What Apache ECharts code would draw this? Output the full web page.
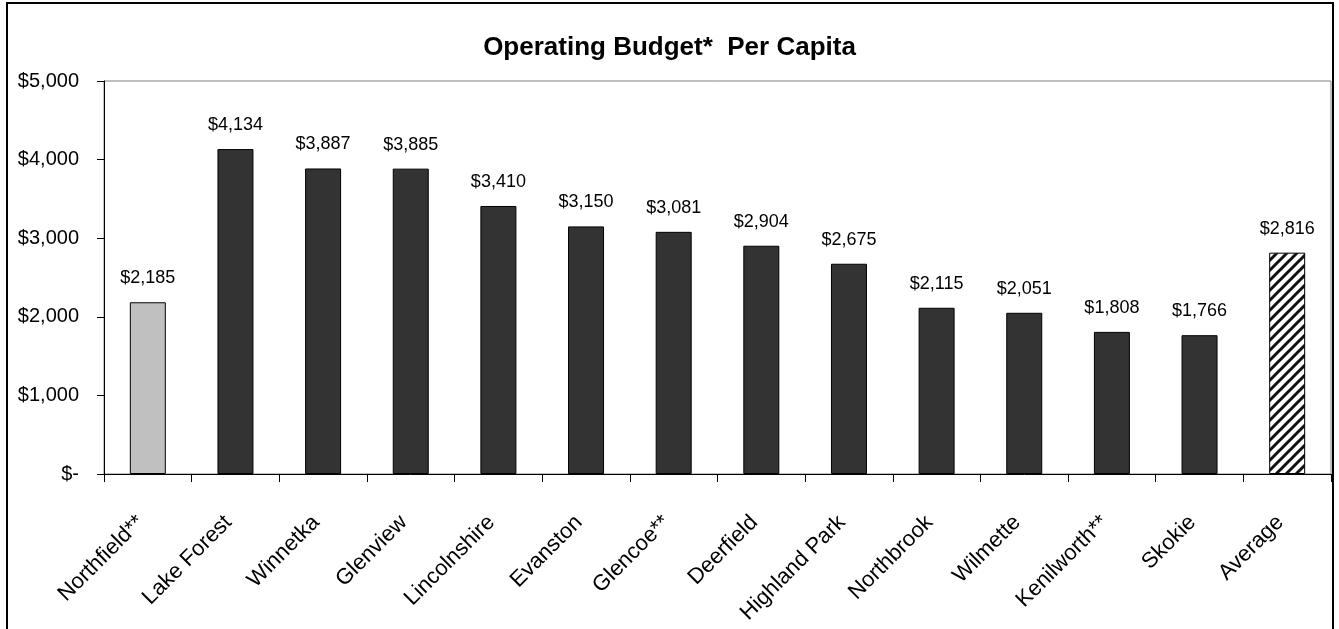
<!DOCTYPE html>
<html>
<head>
<meta charset="utf-8">
<script src="https://cdn.jsdelivr.net/npm/echarts@6/dist/echarts.min.js"></script>
<style>
html,body{margin:0;padding:0;background:#fff;}
#c{width:1339px;height:629px;}
</style>
</head>
<body>
<div id="c"></div>
<script>
const categories = ['Northfield**','Lake Forest','Winnetka','Glenview','Lincolnshire','Evanston','Glencoe**','Deerfield','Highland Park','Northbrook','Wilmette','Kenilworth**','Skokie','Average'];
const values = [2185,4134,3887,3885,3410,3150,3081,2904,2675,2115,2051,1808,1766,2816];
const yTicks = [0,1000,2000,3000,4000,5000];
const titleText = 'Operating Budget*  Per Capita';

function fmt(v){ return v === 0 ? '$-' : '$' + v.toLocaleString('en-US'); }

const pc = document.createElement('canvas');
pc.width = 10; pc.height = 10;
const ctx = pc.getContext('2d');
ctx.fillStyle = '#fff'; ctx.fillRect(0,0,10,10);
ctx.strokeStyle = '#111'; ctx.lineWidth = 3;
ctx.beginPath();
ctx.moveTo(-5,5); ctx.lineTo(5,-5);
ctx.moveTo(0,10); ctx.lineTo(10,0);
ctx.moveTo(5,15); ctx.lineTo(15,5);
ctx.stroke();

const data = values.map((v,i)=>{
  let color = '#333333';
  if (i === 0) color = '#c0c0c0';
  if (i === values.length-1) color = {image: pc, repeat: 'repeat'};
  return {value: v, itemStyle: {color: color}};
});

const chart = echarts.init(document.getElementById('c'), null, {renderer:'canvas'});
chart.setOption({
  animation: false,
  backgroundColor: '#fff',
  title: {
    text: titleText, left: 'center', top: 30,
    textStyle: {fontFamily: 'Liberation Sans, Arial', fontSize: 26, fontWeight: 'bold', color: '#000'}
  },
  graphic: [{
    type: 'rect', silent: true,
    shape: {x: 7, y: 3, width: 1326, height: 640},
    style: {fill: 'none', stroke: '#000', lineWidth: 2}
  }],
  grid: {left: 104, top: 81, right: 8, bottom: 155, containLabel: false, outerBoundsMode: 'none', show: true, borderColor: '#808080', borderWidth: 1},
  xAxis: {
    type: 'category', data: categories,
    axisLine: {lineStyle: {color: '#000', width: 1}},
    axisTick: {show: true, length: 8, lineStyle: {color: '#000'}},
    axisLabel: {rotate: 45, margin: 38, padding: [0, 10, 0, 0], fontFamily: 'Liberation Sans, Arial', fontSize: 22, color: '#000', interval: 0}
  },
  yAxis: {
    type: 'value', min: 0, max: 5000, interval: 1000,
    axisLine: {show: true, lineStyle: {color: '#000', width: 1}},
    axisTick: {show: true, length: 7, lineStyle: {color: '#000'}},
    splitLine: {show: false},
    axisLabel: {margin: 25, fontFamily: 'Liberation Sans, Arial', fontSize: 20, color: '#000', formatter: fmt}
  },
  series: [{
    type: 'bar', data: data, barWidth: 36,
    itemStyle: {borderColor: '#000', borderWidth: 1},
    label: {show: true, position: 'top', distance: 15, fontFamily: 'Liberation Sans, Arial', fontSize: 18, color: '#000', formatter: p => fmt(p.value)}
  }]
});
</script>
</body>
</html>
